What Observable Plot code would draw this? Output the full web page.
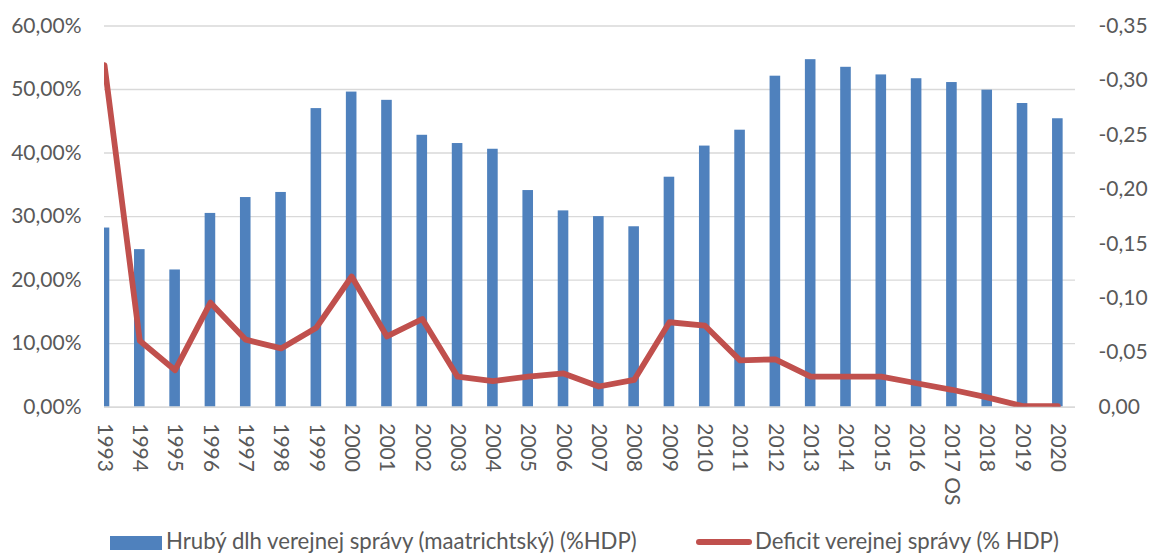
<!DOCTYPE html>
<html>
<head>
<meta charset="utf-8">
<script src="https://cdn.jsdelivr.net/npm/d3@7"></script>
<script src="https://cdn.jsdelivr.net/npm/@observablehq/plot@0.6"></script>
<style>
  html, body { margin: 0; padding: 0; background: #fff; }
  #wrap { position: relative; width: 1149px; height: 554px; font-family: Lato, "Open Sans", sans-serif; color: #595959; }
  #chart { position: absolute; left: 0; top: 0; }
  .lg { position: absolute; font-size: 22.2px; line-height: 1; white-space: nowrap; }
</style>
</head>
<body>
<div id="wrap">
  <div id="chart"></div>
  <div id="legend"></div>
</div>
<script>
const years = ["1993","1994","1995","1996","1997","1998","1999","2000","2001","2002","2003","2004","2005","2006","2007","2008","2009","2010","2011","2012","2013","2014","2015","2016","2017 OS","2018","2019","2020"];
const debt = [28.2,24.8,21.6,30.5,33.0,33.8,47.0,49.6,48.3,42.8,41.5,40.6,34.1,30.9,30.0,28.4,36.2,41.1,43.6,52.1,54.7,53.5,52.3,51.7,51.1,49.9,47.8,45.4];
const deficit = [-0.314,-0.061,-0.034,-0.096,-0.062,-0.054,-0.073,-0.120,-0.065,-0.081,-0.028,-0.024,-0.028,-0.031,-0.019,-0.025,-0.078,-0.075,-0.043,-0.044,-0.028,-0.028,-0.028,-0.022,-0.016,-0.009,-0.001,-0.001];
const leftTicks = [0,10,20,30,40,50,60];
const rightTicks = [0,-0.05,-0.10,-0.15,-0.20,-0.25,-0.30,-0.35];
const seriesNames = ["Hrubý dlh verejnej správy (maatrichtský) (%HDP)", "Deficit verejnej správy (% HDP)"];
const colors = ["#4F81BD", "#C0504D"];

const leftMax = 60, rightMin = -0.35;
const toLeft = v => v / rightMin * leftMax;   // right (deficit) axis -> left axis units
const data = years.map((y, i) => ({year: y, debt: debt[i], deficit: deficit[i]}));
const comma = (v, n) => v.toFixed(n).replace(".", ",");

const H = 524;
const chart = Plot.plot({
  width: 1149,
  height: H,
  marginLeft: 104,
  marginRight: 74,
  marginTop: 25.5,
  marginBottom: H - 406.7,
  style: {fontFamily: "Lato, 'Open Sans', sans-serif", fontSize: "21px", color: "#595959", background: "#fff"},
  x: {type: "band", domain: years, range: [86.35, 1075], paddingInner: 0.7, paddingOuter: 0.35, align: 0.5, round: false},
  y: {domain: [0, leftMax]},
  marks: [
    Plot.gridY(leftTicks, {stroke: "#d9d9d9", strokeOpacity: 1, strokeWidth: 1.4}),
    Plot.barY(data, {x: "year", y: "debt", fill: colors[0], clip: true}),
    Plot.ruleY([0], {stroke: "#d9d9d9", strokeWidth: 1.6}),
    Plot.lineY(data, {x: "year", y: d => toLeft(d.deficit), stroke: colors[1], strokeWidth: 5.8, strokeLinejoin: "round", clip: true}),
    Plot.axisY(leftTicks, {anchor: "left", tickSize: 0, tickPadding: 23, tickFormat: d => comma(d, 2) + "%", label: null}),
    Plot.axisY(rightTicks.map(toLeft), {anchor: "right", tickSize: 0, tickPadding: 23, tickFormat: d => comma(d / leftMax * rightMin, 2), label: null}),
    Plot.axisX({tickSize: 0, tickPadding: 16, tickRotate: 90, label: null})
  ]
});
document.getElementById("chart").appendChild(chart);

const legend = document.getElementById("legend");
legend.innerHTML = `
  <div style="position:absolute;left:110px;top:536px;width:52px;height:14px;background:${colors[0]}"></div>
  <div class="lg" style="left:166px;top:530px">${seriesNames[0]}</div>
  <div style="position:absolute;left:696px;top:539px;width:56px;height:6px;border-radius:3px;background:${colors[1]}"></div>
  <div class="lg" style="left:755px;top:530px">${seriesNames[1]}</div>
`;
</script>
</body>
</html>
